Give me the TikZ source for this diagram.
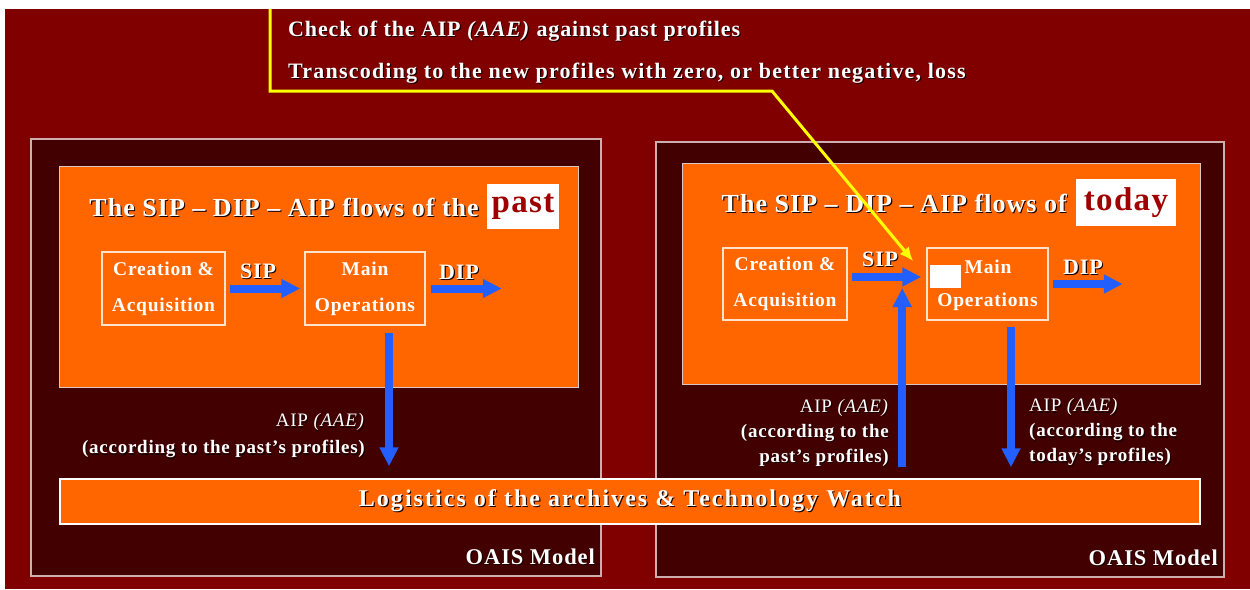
\documentclass[tikz,border=0pt]{standalone}
\usepackage{fontspec}
\setmainfont{Liberation Serif}[LetterSpace=4]
\usetikzlibrary{arrows.meta}

\definecolor{bgred}{RGB}{128,0,0}
\definecolor{panelfill}{RGB}{66,0,0}
\definecolor{orangefill}{RGB}{255,102,0}
\definecolor{panelline}{RGB}{205,175,175}
\definecolor{boxline}{RGB}{255,228,205}
\definecolor{flowblue}{RGB}{35,95,255}
\definecolor{keyred}{RGB}{160,0,0}
\definecolor{callout}{RGB}{255,255,0}
\definecolor{shade}{RGB}{25,0,0}

% white text with a small dark drop shadow
\newcommand{\shd}[1]{\leavevmode\rlap{\kern1.1pt\raisebox{-1.1pt}{\color{shade}#1}}#1}

\tikzset{
  panel/.style={draw=panelline, line width=1.2pt, fill=panelfill, inner sep=0pt},
  stage/.style={draw=panelline!70!white, line width=1pt, fill=orangefill, inner sep=0pt},
  flowbox/.style={draw=boxline, line width=1.5pt, text=white, align=center, inner sep=0pt,
    font=\fontsize{19.5}{36}\selectfont\bfseries},
  keyword/.style={fill=white, text=keyred, inner sep=0pt, font=\fontsize{33}{36}\selectfont\bfseries},
  heading/.style={text=white, inner sep=0pt, anchor=base east, font=\fontsize{26}{30}\selectfont\bfseries},
  topline/.style={text=white, inner sep=0pt, anchor=west, font=\fontsize{22}{26}\selectfont\bfseries},
  flowtag/.style={text=white, inner sep=0pt, font=\fontsize{22}{26}\selectfont\bfseries},
  aiptag/.style={text=white, inner sep=0pt, font=\fontsize{19}{27}\selectfont},
  modeltag/.style={text=white, inner sep=0pt, anchor=east, font=\fontsize{22.5}{26}\selectfont\bfseries},
  blk/.style={draw=flowblue, line width=8pt, -{Triangle[length=19pt,width=18pt]}},
  calloutline/.style={draw=callout, line width=3pt, line join=miter,
    -{Latex[length=14pt,width=12pt]}},
}

\begin{document}
\begin{tikzpicture}[x=1pt,y=-1pt]
\useasboundingbox (0,0) rectangle (1250,589);
\fill[white] (0,0) rectangle (1250,589);
\fill[bgred] (5,9) rectangle (1250,589);

% the two OAIS panels
\node[panel, minimum width=570pt, minimum height=437pt] (panelL) at (316,357.5) {};
\node[panel, minimum width=568pt, minimum height=435pt] (panelR) at (940,359.5) {};

% orange flow areas
\node[stage, minimum width=519pt, minimum height=221pt] (stageL) at (318.5,276.5) {};
\node[stage, minimum width=518pt, minimum height=221pt] (stageR) at (941,273.5) {};

% shared logistics bar
\node[draw=white, line width=1.5pt, fill=orangefill, minimum width=1140pt, minimum height=45pt,
      inner sep=0pt, text=white, font=\fontsize{24}{28}\selectfont\bfseries\addfontfeature{LetterSpace=8.5}] (bar) at (630,501.5)
      {\shd{Logistics of the archives \& Technology Watch}};

% headings
\node[heading] (headL) at (479,216) {\shd{The SIP -- DIP -- AIP flows of the}};
\node[keyword, minimum width=72pt, minimum height=45pt] (pastkw) at (523,206.5) {past};
\node[heading] (headR) at (1067,212) {\shd{The SIP -- DIP -- AIP flows of}};
\node[keyword, minimum width=100pt, minimum height=47pt] (todaykw) at (1126,202.5) {today};

% past flow
\node[flowbox, minimum width=123pt, minimum height=73pt] (creaL) at (163.5,288.5)
  {Creation \&\\Acquisition};
\node[flowbox, minimum width=120pt, minimum height=73pt] (mainL) at (365,288.5)
  {Main\\Operations};
\node[flowtag] (sipL) at (258,272) {\shd{SIP}};
\node[flowtag] (dipL) at (459,273) {\shd{DIP}};
\draw[blk] ([xshift=4pt]creaL.east) -- ([xshift=-4pt]mainL.west);
\draw[blk] ([xshift=5pt]mainL.east) -- ++(71,0) coordinate (dipLend);
\draw[blk] ([xshift=24pt,yshift=-7pt]mainL.south) -- ([xshift=24pt,yshift=12pt]mainL.south |- bar.north);
\node[aiptag, anchor=east, align=right] (aipL) at (365,436.5)
  {\shd{AIP \textit{(AAE)}}\\\shd{\bfseries (according to the past's profiles)}};

% today flow
\node[flowbox, minimum width=124pt, minimum height=72pt] (creaR) at (785,284)
  {Creation \&\\Acquisition};
\node[flowbox, minimum width=121pt, minimum height=72pt] (mainR) at (987.5,284)
  {\phantom{Main}\\Operations};
\node[text=white, inner sep=0pt, font=\fontsize{19.5}{22}\selectfont\bfseries] (mainRtop) at (988,267) {Main};
\node[fill=white, minimum width=31pt, minimum height=23pt, inner sep=0pt] (markR) at (945.5,276.5) {};
\node[flowtag] (sipR) at (880,260) {\shd{SIP}};
\node[flowtag] (dipR) at (1083,268) {\shd{DIP}};
\draw[blk] ([shift={(4pt,7pt)}]creaR.east) -- ([shift={(-5pt,7pt)}]mainR.west);
\draw[blk] ([xshift=4pt]mainR.east) -- ++(70,0) coordinate (dipRend);
\draw[blk] ([xshift=-24pt,yshift=11pt]mainR.west |- bar.north) -- ([xshift=-24pt,yshift=-4pt]mainR.west);
\draw[blk] ([xshift=23.5pt,yshift=-6pt]mainR.south) -- ([xshift=23.5pt,yshift=11pt]mainR.south |- bar.north);
\node[aiptag, anchor=east, align=right, font=\fontsize{19}{25}\selectfont] (aipRpast) at (889,433)
  {\shd{AIP \textit{(AAE)}}\\\shd{\bfseries (according to the}\\\shd{\bfseries past's profiles)}};
\node[aiptag, anchor=west, align=left, font=\fontsize{19}{25}\selectfont] (aipRtoday) at (1029,433)
  {\shd{AIP \textit{(AAE)}}\\\shd{\bfseries (according to the}\\\shd{\bfseries today's profiles)}};

% model captions
\node[modeltag] (modelL) at (595,557) {\shd{OAIS Model}};
\node[modeltag] (modelR) at (1218,558) {\shd{OAIS Model}};

% migration note and its callout
\node[topline] (checknote) at (288,32) {\shd{Check of the AIP \textit{(AAE)} against past profiles}};
\node[topline, font=\fontsize{22}{26}\selectfont\bfseries\addfontfeature{LetterSpace=5.5}] (transnote) at (288,74)
  {\shd{Transcoding to the new profiles with zero, or better negative, loss}};
\coordinate (calloutTop) at (270,9);
\draw[calloutline] (calloutTop) |- (772,91) -- ([shift={(-13pt,-14pt)}]mainR.north west);
\end{tikzpicture}
\end{document}
